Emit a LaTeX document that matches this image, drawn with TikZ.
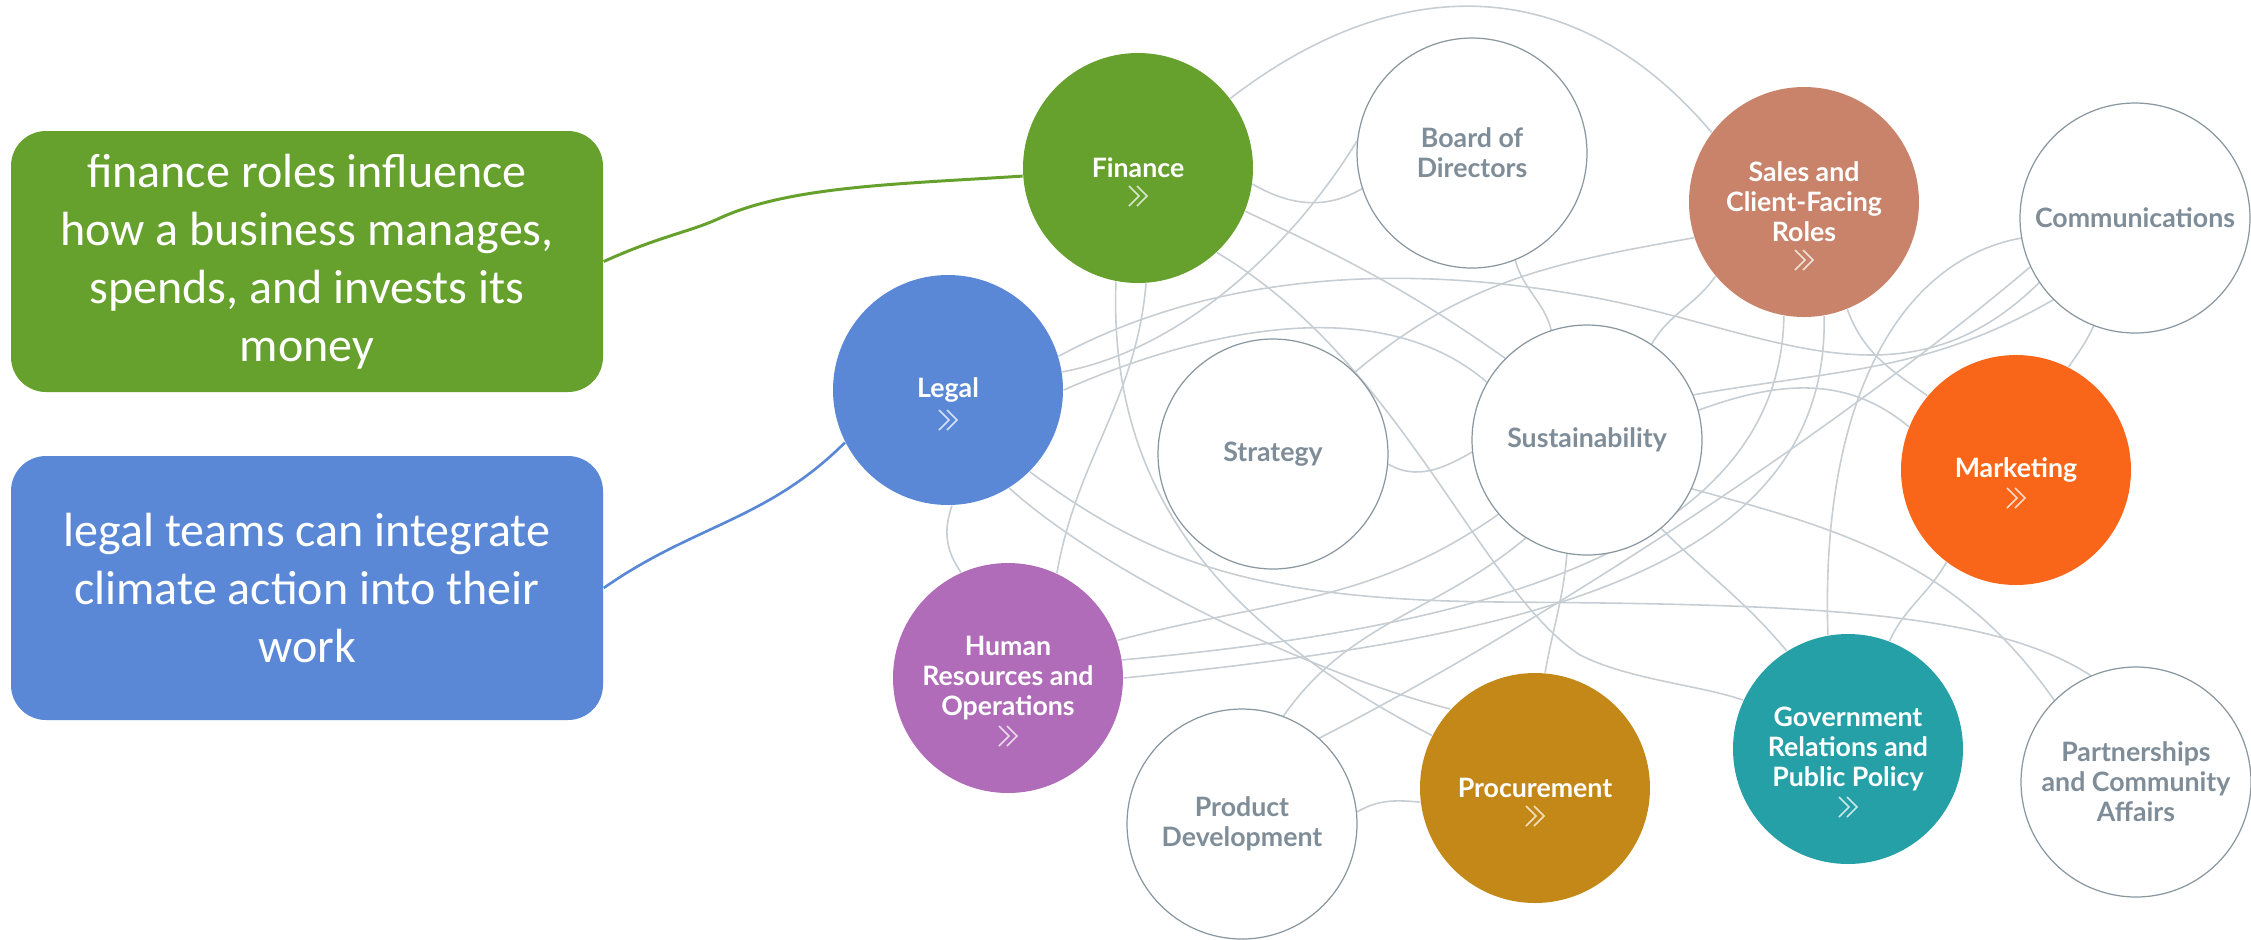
\documentclass[tikz,border=0pt]{standalone}
\usepackage{fontspec}
\setmainfont{Carlito}
\newfontfamily\rolefont{Lato}
\usepackage{xcolor}
\usepackage{tikz}
\usetikzlibrary{backgrounds}

\definecolor{finGreen}{HTML}{66A02D}
\definecolor{legBlue}{HTML}{5A88D6}
\definecolor{salesBrown}{HTML}{C8836A}
\definecolor{mktOrange}{HTML}{F96519}
\definecolor{hrPurple}{HTML}{B06CB8}
\definecolor{proOchre}{HTML}{C38817}
\definecolor{govTeal}{HTML}{25A0A7}
\definecolor{ringGray}{HTML}{8A979F}
\definecolor{labelGray}{HTML}{7F8D98}
\definecolor{linkGray}{HTML}{C6CDD3}

\begin{document}
\begin{tikzpicture}[x=0.1mm, y=-0.1mm,
      role/.style={circle, minimum size=23mm, inner sep=0pt, align=center,
        font=\rolefont\bfseries\fontsize{7.6}{8.55}\selectfont, text=white},
      plain/.style={role, draw=ringGray, line width=0.35pt, fill=white, text=labelGray},
      link/.style={draw=linkGray, line width=0.45pt},
      note/.style={rounded corners=3.5mm, minimum width=59.2mm, align=center, text=white,
        font=\fontsize{13.66}{16.5}\selectfont},
      pics/chev/.style={code={
        \draw[white, opacity=0.75, line width=0.45pt]
          (-9,-10) -- (1,0) -- (-9,10) (-1,-10) -- (9,0) -- (-1,10);}}]
      \useasboundingbox (0,0) rectangle (2251,939);

      % notes on the left
      \node[note, fill=finGreen, minimum height=26.1mm] (finNote) at (307,261.5)
        {finance roles influence\\how a business manages,\\spends, and invests its\\money};
      \node[note, fill=legBlue, minimum height=26.4mm] (legNote) at (307,588)
        {legal teams can integrate\\climate action into their\\work};

      % roles
      \node[role, fill=finGreen] (fin) at (1138,168) {Finance};
      \node[plain] (brd) at (1472,153) {Board of\\Directors};
      \node[role, fill=salesBrown] (sal) at (1804,202) {Sales and\\Client-Facing\\Roles};
      \node[plain] (com) at (2135,218) {Communications};
      \node[role, fill=legBlue] (leg) at (948,390) {Legal};
      \node[plain] (str) at (1273,454) {Strategy};
      \node[plain] (sus) at (1587,440) {Sustainability};
      \node[role, fill=mktOrange] (mkt) at (2016,470) {Marketing};
      \node[role, fill=hrPurple] (hr) at (1008,678) {Human\\Resources and\\Operations};
      \node[plain] (pd) at (1242,824) {Product\\Development};
      \node[role, fill=proOchre] (pro) at (1535,788) {Procurement};
      \node[role, fill=govTeal] (gov) at (1848,749) {Government\\Relations and\\Public Policy};
      \node[plain] (par) at (2136,782) {Partnerships\\and Community\\Affairs};

      \path (fin.center) ++(0,28) pic {chev};
      \path (leg.center) ++(0,30) pic {chev};
      \path (mkt.center) ++(0,28) pic {chev};
      \path (pro.center) ++(0,28) pic {chev};
      \path (sal.center) ++(0,58) pic {chev};
      \path (hr.center) ++(0,58) pic {chev};
      \path (gov.center) ++(0,58) pic {chev};

      \begin{scope}[on background layer]
      \draw[finGreen, line width=0.85pt] (finNote.east) .. controls (660,236) and (690,232) .. (720,218)
                                         .. controls (790,186) and (900,184) .. (fin.184);
      \draw[legBlue, line width=0.75pt] (legNote.east) to[out=35,in=225] (leg.207);

      \draw[link] (fin.37) .. controls (1390,-25) and (1570,-35) .. (sal.143);
      \draw[link] (fin.-8) to[out=-30,in=210] (brd.198);
      \draw[link] (fin.-22) to[out=-25,in=145] (sus.135);
      \draw[link] (fin.-86) to[out=-95,in=80] (hr.65);
      \draw[link] (fin.-101) .. controls (1108,500) and (1230,630) .. (pro.153);
      \draw[link] (fin.-47) .. controls (1400,360) and (1480,590) .. (1580,655)
                            .. controls (1630,680) and (1700,685) .. (gov.155);
      \draw[link] (leg.17) .. controls (1200,280) and (1380,260) .. (1580,295)
                           .. controls (1760,325) and (1900,420) .. (com.214);
      \draw[link] (leg.9) .. controls (1180,350) and (1290,250) .. (brd.174);
      \draw[link] (leg.0) .. controls (1200,330) and (1380,290) .. (sus.150);
      \draw[link] (leg.-45) .. controls (1150,560) and (1250,600) .. (1500,602)
                            .. controls (1800,604) and (1990,610) .. (par.113);
      \draw[link] (leg.-58) .. controls (1100,570) and (1300,670) .. (pro.137);
      \draw[link] (leg.-88) to[out=-110,in=125] (hr.114);
      \draw[link] (sal.198) to[out=190,in=40] (str.45);
      \draw[link] (str.-5) to[out=-30,in=210] (sus.186);
      \draw[link] (brd.-68) to[out=-75,in=105] (sus.108);
      \draw[link] (sus.56) to[out=60,in=235] (sal.220);
      \draw[link] (sus.23) to[out=10,in=210] (com.225);
      \draw[link] (sus.15) to[out=20,in=140] (mkt.158);
      \draw[link] (com.-111) to[out=-115,in=55] (mkt.63);
      \draw[link] (sal.-68) to[out=-70,in=145] (mkt.140);
      \draw[link] (hr.19) to[out=15,in=215] (sus.-140);
      \draw[link] (hr.9) .. controls (1450,630) and (1780,560) .. (sal.-100);
      \draw[link] (hr.0) .. controls (1500,640) and (1830,580) .. (sal.-80);
      \draw[link] (com.190) .. controls (1900,260) and (1820,400) .. (gov.100);
      \draw[link] (pd.48) .. controls (1550,620) and (1850,420) .. (com.205);
      \draw[link] (sus.-25) to[out=-15,in=125] (par.135);
      \draw[link] (sus.-50) to[out=-45,in=130] (gov.122);
      \draw[link] (mkt.-127) to[out=-120,in=65] (gov.69);
      \draw[link] (sus.-100) to[out=-95,in=80] (pro.85);
      \draw[link] (pd.69) to[out=55,in=220] (sus.-122);
      \draw[link] (pd.6) to[out=30,in=175] (pro.187);
      % \draw[link] (sal.-80) -- (gov.100);
      \end{scope}
    \end{tikzpicture}
\end{document}
